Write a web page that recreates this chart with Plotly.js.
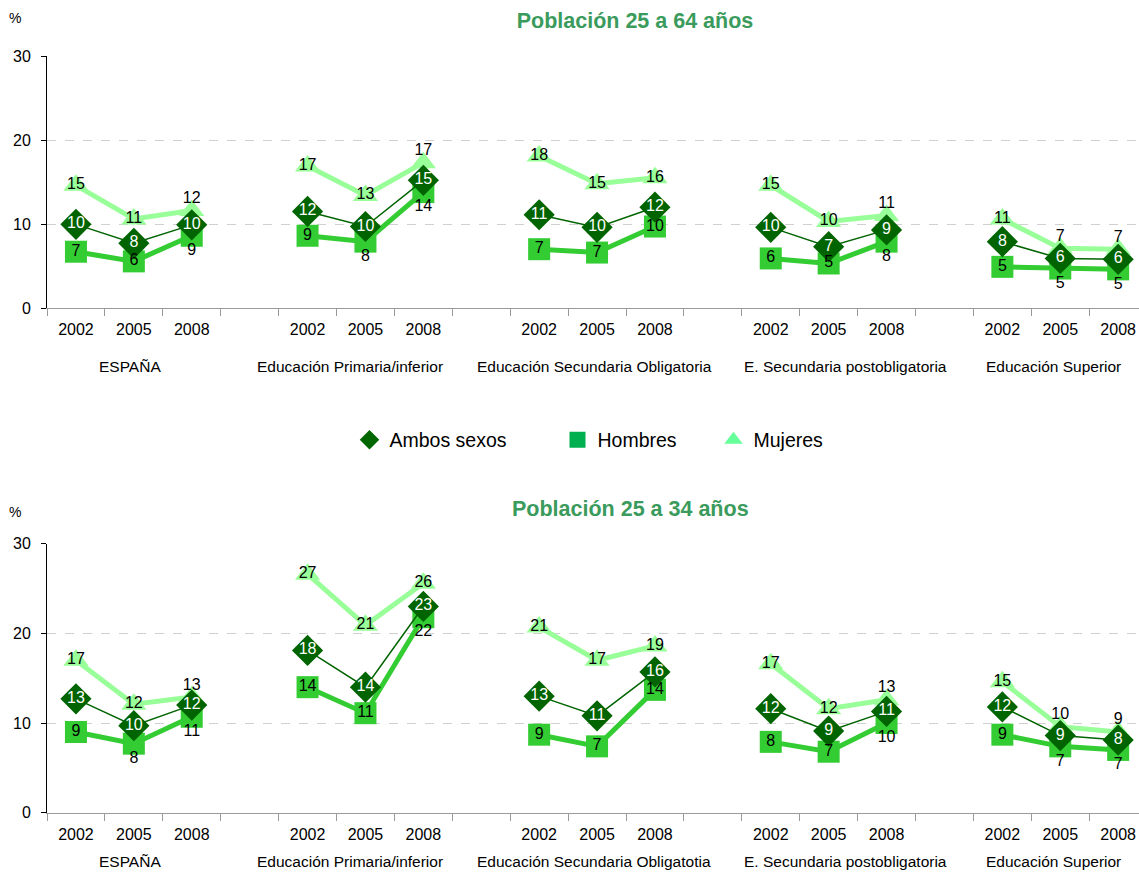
<!DOCTYPE html>
<html>
<head>
<meta charset="utf-8">
<script src="https://cdn.plot.ly/plotly-3.0.1.min.js"></script>
<style>html,body{margin:0;padding:0;background:#fff;} #chart{width:1139px;height:872px;}</style>
</head>
<body>
<div id="chart"></div>
<script>
// ---- DATA ----
const years = ['2002', '2005', '2008'];
const groupsTop = ['ESPAÑA', 'Educación Primaria/inferior', 'Educación Secundaria Obligatoria', 'E. Secundaria postobligatoria', 'Educación Superior'];
const groupsBottom = ['ESPAÑA', 'Educación Primaria/inferior', 'Educación Secundaria Obligatotia', 'E. Secundaria postobligatoria', 'Educación Superior'];
const seriesNames = ['Ambos sexos', 'Hombres', 'Mujeres'];

// Población 25 a 64 años (%), by group then year
const top_ambos   = [9.96, 7.7, 9.9,  11.5, 9.7, 15.2,  11.1, 9.6, 12.0,  9.6, 7.3, 9.3,  7.9, 5.9, 5.8];
const top_hombres = [6.7, 5.55, 8.6,  8.6, 7.9, 13.8,   7.0, 6.6, 9.7,    5.9, 5.3, 7.9,  4.9, 4.7, 4.6];
const top_mujeres = [14.6, 10.6, 11.6, 16.9, 13.4, 17.3, 18.1, 14.8, 15.5, 14.6, 10.3, 11.0, 10.6, 7.1, 7.0];

// Población 25 a 34 años (%)
const bot_ambos   = [12.7, 9.7, 12.0, 18.1, 14.0, 23.0, 13.0, 10.8, 15.7, 11.6, 9.1, 11.3, 11.8, 8.6, 8.1];
const bot_hombres = [9.0, 7.7, 10.7,  14.0, 11.1, 21.8, 8.7, 7.4, 13.7,   7.9, 6.8, 10.0, 8.7, 7.4, 7.0];
const bot_mujeres = [17.0, 12.1, 12.9, 26.6, 20.9, 25.6, 20.7, 17.0, 18.6, 16.6, 11.6, 12.6, 14.6, 9.6, 9.0];

// ---- STYLE ----
const FONT = 'Arial, "Liberation Sans", sans-serif';
const W = 1139, H = 872, ML = 47, PW = W - ML;
const px2paperX = p => (p - ML) / PW;
const px2paperY = p => 1 - p / H;

// label placement per point: c = centred on point, a = just above, b = just below
const codes = s => s.replace(/ /g, '').split('');
const plTopA = codes('ccc ccc ccc ccc ccc');
const plTopH = codes('ccb cbb ccc ccb cbb');
const plTopM = codes('cca cca ccc cca caa');
const plBotA = codes('ccc ccc ccc ccc ccc');
const plBotH = codes('cbb ccb ccc ccb cbb');
const plBotM = codes('cca ccc ccc cca caa');
const placePos = {c: 'middle center', a: 'top center', b: 'bottom center'};
const placeSize = {c: 0, a: 4, b: 10};

const nG = 5, perG = 3, slot = 4;
function expand(arr) {
  const out = [];
  for (let g = 0; g < nG; g++) {
    for (let i = 0; i < perG; i++) out.push(arr[g * perG + i]);
    if (g < nG - 1) out.push(null);
  }
  return out;
}
const xs = [];
for (let k = 0; k < nG * slot - 1; k++) xs.push(k);
const centerVals = [], centerText = [];
for (let g = 0; g < nG; g++) {
  for (let i = 0; i < perG; i++) { centerVals.push(g * slot + i); centerText.push(years[i]); }
}
const groupLabelPx = [130, 350, 594, 845, 1053];

const colA = '#006400', colH = '#33CC33', colM = '#99FF99';

function lineTrace(ax, ay, vals, name, color, lw, symbol, size) {
  return {
    type: 'scatter', mode: 'lines+markers', xaxis: ax, yaxis: ay,
    x: xs, y: expand(vals), connectgaps: false, showlegend: false, name: name,
    line: {color: color, width: lw},
    marker: {symbol: symbol, size: size, color: color, line: {width: 0}},
    cliponaxis: false, hoverinfo: 'skip'
  };
}
function textTrace(ax, ay, vals, place, tcolor) {
  const pl = expand(place);
  return {
    type: 'scatter', mode: 'markers+text', xaxis: ax, yaxis: ay,
    x: xs, y: expand(vals), showlegend: false,
    marker: {size: pl.map(p => placeSize[p || 'c']), opacity: 0, color: 'rgba(0,0,0,0)'},
    texttemplate: '%{y:.0f}', textposition: pl.map(p => placePos[p || 'c']),
    textfont: {family: FONT, size: 16, color: tcolor},
    cliponaxis: false, hoverinfo: 'skip'
  };
}

const traces = [
  lineTrace('x', 'y', top_mujeres, seriesNames[2], colM, 5, 'triangle-up', 22),
  lineTrace('x', 'y', top_hombres, seriesNames[1], colH, 5, 'square', 22),
  lineTrace('x', 'y', top_ambos, seriesNames[0], colA, 1.5, 'diamond', 24),
  lineTrace('x2', 'y2', bot_mujeres, seriesNames[2], colM, 5, 'triangle-up', 22),
  lineTrace('x2', 'y2', bot_hombres, seriesNames[1], colH, 5, 'square', 22),
  lineTrace('x2', 'y2', bot_ambos, seriesNames[0], colA, 1.5, 'diamond', 24),
  textTrace('x', 'y', top_mujeres, plTopM, '#000'),
  textTrace('x', 'y', top_hombres, plTopH, '#000'),
  textTrace('x', 'y', top_ambos, plTopA, '#ffffff'),
  textTrace('x2', 'y2', bot_mujeres, plBotM, '#000'),
  textTrace('x2', 'y2', bot_hombres, plBotH, '#000'),
  textTrace('x2', 'y2', bot_ambos, plBotA, '#ffffff'),
  // legend entries
  {type: 'scatter', mode: 'markers', x: [null], y: [null], name: seriesNames[0], legend: 'legend',
   marker: {symbol: 'diamond', size: 15, color: '#006600'}},
  {type: 'scatter', mode: 'markers', x: [null], y: [null], name: seriesNames[1], legend: 'legend2',
   marker: {symbol: 'square', size: 16, color: '#00B050'}},
  {type: 'scatter', mode: 'markers', x: [null], y: [null], name: seriesNames[2], legend: 'legend3',
   marker: {symbol: 'triangle-up', size: 16, color: '#66FF99'}}
];

function xAxis(anchor) {
  return {
    anchor: anchor, domain: [0, 1], range: [-0.5, 18.36], showgrid: false, zeroline: false,
    showline: true, linecolor: '#9a9a9a', linewidth: 1,
    tickmode: 'array', tickvals: centerVals, ticktext: centerText,
    ticks: 'outside', ticklen: 7, tickcolor: 'rgba(0,0,0,0)',
    tickfont: {family: FONT, size: 16, color: '#000'},
    minor: {tickmode: 'linear', tick0: -0.5, dtick: 1, ticks: 'outside', ticklen: 7, tickcolor: '#9a9a9a', tickwidth: 1, showgrid: false}
  };
}
function yAxis(domain, anchor) {
  return {
    anchor: anchor, domain: domain, range: [0, 30], tickvals: [0, 10, 20, 30],
    showgrid: true, gridcolor: '#d0d0d0', griddash: 'dash', gridwidth: 1,
    zeroline: false, showline: true, linecolor: '#000', linewidth: 1,
    ticks: 'outside', ticklen: 5, tickcolor: '#000', ticklabelstandoff: 7,
    tickfont: {family: FONT, size: 16, color: '#000'}
  };
}

const annotations = [];
function groupLabels(list, yPix) {
  list.forEach((g, i) => annotations.push({
    xref: 'paper', yref: 'paper', x: px2paperX(groupLabelPx[i]), y: px2paperY(yPix), text: g, showarrow: false,
    xanchor: 'center', yanchor: 'middle', font: {family: FONT, size: 15.5, color: '#000'}
  }));
}
groupLabels(groupsTop, 367);
groupLabels(groupsBottom, 861);
[18, 512].forEach(yp => annotations.push({xref: 'paper', yref: 'paper', x: px2paperX(15), y: px2paperY(yp), text: '%', showarrow: false,
  xanchor: 'center', yanchor: 'middle', font: {family: FONT, size: 14, color: '#000'}}));
annotations.push({xref: 'paper', yref: 'paper', x: px2paperX(630), y: px2paperY(509), text: '<b>Población 25 a 34 años</b>', showarrow: false,
  xanchor: 'center', yanchor: 'middle', font: {family: FONT, size: 21.5, color: '#3A9B5C'}});

function legendAt(xPix) {
  return {x: px2paperX(xPix - 19.5), xanchor: 'left', y: px2paperY(440), yanchor: 'middle', orientation: 'h',
    bgcolor: 'rgba(0,0,0,0)', font: {family: FONT, size: 19.5, color: '#000'}};
}

const layout = {
  width: W, height: H, paper_bgcolor: '#fff', plot_bgcolor: '#fff',
  margin: {l: ML, r: 0, t: 0, b: 0},
  title: {text: '<b>Población 25 a 64 años</b>', x: px2paperX(635), xanchor: 'center', xref: 'paper',
    y: px2paperY(20), yanchor: 'middle', yref: 'paper', font: {family: FONT, size: 21.5, color: '#3A9B5C'}},
  xaxis: xAxis('y'),
  xaxis2: xAxis('y2'),
  yaxis: yAxis([px2paperY(308), px2paperY(56)], 'x'),
  yaxis2: yAxis([px2paperY(812.7), px2paperY(543.7)], 'x2'),
  legend: legendAt(369),
  legend2: legendAt(577),
  legend3: legendAt(733),
  annotations: annotations,
  showlegend: true
};

Plotly.newPlot('chart', traces, layout, {displayModeBar: false, staticPlot: true});
</script>
</body>
</html>
